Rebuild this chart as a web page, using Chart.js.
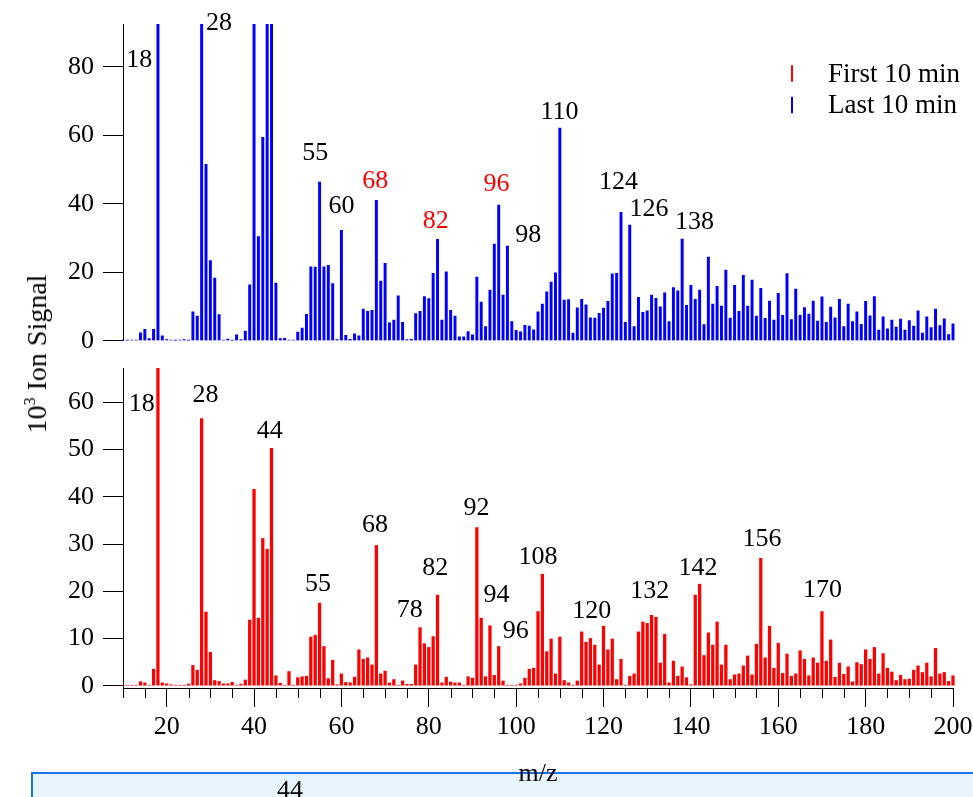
<!DOCTYPE html>
<html>
<head>
<meta charset="utf-8">
<script src="https://cdn.jsdelivr.net/npm/chart.js@4/dist/chart.umd.min.js"></script>
<style>
html,body{margin:0;padding:0;background:#fff;width:973px;height:797px;overflow:hidden;position:relative;font-family:"Liberation Serif","Times New Roman",serif;}
#box{position:absolute;left:31px;top:772px;width:960px;height:60px;background:#e8f4fd;border:2px solid #1a73e8;box-sizing:border-box;}
#c1{position:absolute;left:0;top:-1px;}
#c2{position:absolute;left:0;top:342px;}
#ytitle{position:absolute;left:37px;top:354px;transform:translate(-50%,-50%) rotate(-90deg);white-space:nowrap;font-size:28px;color:#000;}
#ytitle sup{font-size:16px;vertical-align:11px;line-height:0;}
#stray{position:absolute;left:277px;top:777px;font-size:26px;line-height:26px;color:#000;}
</style>
</head>
<body>
<div id="box"></div>
<canvas id="c1" width="973" height="367"></canvas>
<canvas id="c2" width="978" height="455"></canvas>
<div id="ytitle">10<sup>3</sup> Ion Signal</div>
<div id="stray">44</div>
<script>
// m/z categories
const mz = [10,11,12,13,14,15,16,17,18,19,20,21,22,23,24,25,26,27,28,29,30,31,32,33,34,35,36,37,38,39,
40,41,42,43,44,45,46,47,48,49,50,51,52,53,54,55,56,57,58,59,60,61,62,63,64,65,66,67,68,69,
70,71,72,73,74,75,76,77,78,79,80,81,82,83,84,85,86,87,88,89,90,91,92,93,94,95,96,97,98,99,
100,101,102,103,104,105,106,107,108,109,110,111,112,113,114,115,116,117,118,119,120,121,122,123,124,125,126,127,128,129,
130,131,132,133,134,135,136,137,138,139,140,141,142,143,144,145,146,147,148,149,150,151,152,153,154,155,156,157,158,159,
160,161,162,163,164,165,166,167,168,169,170,171,172,173,174,175,176,177,178,179,180,181,182,183,184,185,186,187,188,189,
190,191,192,193,194,195,196,197,198,199,200];

// Last 10 min (10^3 ion signal), m/z 10..200
const lastTen = [0.1,0.1,0.2,0.2,2.3,3.3,0.6,3.3,150,1.4,0.3,0.2,0.1,0.2,0.3,0.1,8.4,7.2,140,51.5,23.4,18.3,7.6,0.2,0.5,0.1,1.7,0.3,2.8,16.3,
110,30.4,59.4,105,160,16.8,0.6,0.7,0.2,0.2,2.5,3.7,7.7,21.6,21.5,46.3,21.6,22.0,16.7,0.3,32.2,1.6,0.4,2.0,1.4,9.2,8.6,8.9,41.0,17.4,
22.6,5.2,6.0,13.1,5.4,0.3,0.4,7.9,8.6,12.9,12.3,19.7,29.6,6.0,20.1,8.9,7.2,1.1,1.1,2.7,1.7,18.6,11.3,4.1,14.8,28.2,39.6,13.3,27.6,5.6,
3.0,2.6,4.5,4.3,3.2,8.4,10.7,14.3,17.1,19.8,62.1,11.9,12.0,2.2,9.6,12.1,10.5,6.7,6.6,8.0,9.5,11.5,19.5,19.7,37.5,5.4,33.8,4.1,12.7,8.3,
8.7,13.3,12.4,9.9,14.0,5.6,15.5,14.6,29.7,10.3,16.2,12.1,14.8,4.7,24.4,10.7,15.9,10.1,20.6,6.6,16.2,8.6,19.1,10.1,17.7,7.2,15.3,6.5,11.6,6.0,
13.8,7.4,19.6,6.2,15.1,7.4,9.7,7.8,11.6,5.7,12.8,5.4,9.8,6.7,12.1,4.1,10.7,5.6,8.4,4.8,11.5,7.3,12.9,3.1,7.0,3.5,6.0,4.0,6.3,3.1,
5.9,4.3,8.7,2.2,7.0,3.8,9.2,4.4,6.4,1.8,4.9];

// First 10 min (10^3 ion signal), m/z 10..200
const firstTen = [0.1,0.1,0.1,0.1,0.85,0.6,0.1,3.5,120,0.6,0.4,0.2,0.1,0.1,0.1,0.35,4.3,3.3,56.6,15.6,7.1,1.1,0.9,0.4,0.4,0.7,0.1,0.35,1.2,13.9,
41.6,14.3,31.2,28.9,50.3,2.1,0.5,0.1,3.0,0.1,1.7,1.9,2.0,10.3,10.7,17.5,8.3,1.5,5.4,0.2,2.5,0.7,0.6,1.8,7.6,5.6,5.9,4.4,29.7,2.5,
3.1,0.6,1.3,0.1,1.0,0.3,0.3,4.4,12.3,8.9,8.1,10.4,19.2,0.6,1.8,0.8,0.6,0.6,0.1,1.9,1.6,33.5,14.3,1.9,12.7,2.2,8.3,1.0,0.1,0.1,
0.1,0.4,1.6,3.5,3.7,15.7,23.6,7.2,9.9,2.5,10.3,1.1,0.6,0.1,1.0,11.4,9.2,10.0,8.6,4.4,12.6,7.6,9.9,1.3,5.6,0.1,2.0,2.5,11.4,13.5,
13.2,14.9,14.5,4.8,10.9,0.6,5.2,2.0,4.0,1.7,0.2,19.2,21.5,6.4,11.2,8.6,13.5,4.4,8.6,1.3,2.3,2.5,4.2,6.3,2.3,8.8,27.0,5.9,12.6,3.7,
9.0,2.6,6.7,2.0,2.5,7.4,5.6,2.1,5.9,4.8,15.7,5.2,9.7,1.8,4.8,2.4,4.0,0.8,4.9,4.5,7.6,5.6,8.1,2.5,6.8,3.7,2.9,1.1,2.2,1.3,
1.4,3.3,4.2,2.8,4.8,1.9,7.9,2.5,2.8,0.9,2.1];

// axis tick values
const xTickLabels = [20,40,60,80,100,120,140,160,180,200];
const topYTicks = [0,20,40,60,80];
const bottomYTicks = [0,10,20,30,40,50,60];

// peak annotations: text, anchor m/z, anchor signal
const topPeakText = ['18','28','55','60','68','82','96','98','110','124','126','138'];
const topPeakMz   = [13.7,32.0,54.0,60.0,67.75,81.6,95.5,102.75,109.9,123.4,130.4,140.8];
const topPeakVal  = [80.0,90.7,52.8,37.2,44.5,32.8,43.7,28.7,64.7,44.3,36.5,32.6];
const topPeakRed  = ['68','82','96'];

const botPeakText = ['18','28','44','55','68','78','82','92','94','96','108','120','132','142','156','170'];
const botPeakMz   = [14.3,28.9,43.6,54.65,67.7,75.65,81.5,90.9,95.5,99.9,105.0,117.3,130.6,141.6,156.3,170.1];
const botPeakVal  = [58.2,60.1,52.5,20.1,32.6,14.6,23.4,36.1,17.7,10.0,25.7,14.3,18.5,23.4,29.6,18.7];

const FONT = "'Liberation Serif','Times New Roman',serif";
Chart.defaults.font.family = FONT;
Chart.defaults.color = '#000';

function peakLabels(id, texts, xs, ys, redSet){
  return {
    id: id,
    afterDatasetsDraw(chart){
      const ctx = chart.ctx, sx = chart.scales.x, sy = chart.scales.y;
      ctx.save();
      ctx.font = "26px " + FONT;
      ctx.textAlign = 'center';
      ctx.textBaseline = 'alphabetic';
      texts.forEach((t,i)=>{
        ctx.fillStyle = redSet.includes(t) ? '#ff0000' : '#000000';
        ctx.fillText(t, sx.getPixelForValue(xs[i]), sy.getPixelForValue(ys[i]));
      });
      ctx.restore();
    }
  };
}

const legendPlugin = {
  id: 'legendPlugin',
  afterDraw(chart){
    const ctx = chart.ctx;
    ctx.save();
    const items = [['First 10 min','#ff0000',82.7],['Last 10 min','#0000ff',114.3]];
    items.forEach(([t,c,base])=>{
      ctx.strokeStyle = c; ctx.lineWidth = 2;
      ctx.beginPath(); ctx.moveTo(792, base-16.5); ctx.lineTo(792, base); ctx.stroke();
      ctx.fillStyle = '#000'; ctx.font = "27px " + FONT;
      ctx.textAlign = 'left'; ctx.textBaseline = 'alphabetic';
      ctx.fillText(t, 828, base);
    });
    ctx.restore();
  }
};

const minorTicks = {
  id: 'minorTicks',
  afterDraw(chart){
    const xs = chart.scales.x, ctx = chart.ctx;
    ctx.save(); ctx.strokeStyle = '#000'; ctx.lineWidth = 1;
    for (let v = 10; v <= 200; v += 5){
      if (v % 20 === 0) continue;
      const px = Math.round(xs.getPixelForValue(v)) + 0.5;
      ctx.beginPath(); ctx.moveTo(px, xs.top); ctx.lineTo(px, xs.top + 10); ctx.stroke();
    }
    ctx.restore();
  }
};

function yAxis(min, max, step, tickVals){
  return {
    min: min, max: max,
    afterBuildTicks: s => { s.ticks = tickVals.map(v => ({value: v})); },
    afterFit: s => { s.width = 123; },
    ticks: {stepSize: step, font: {size: 26}, color: '#000', padding: 9},
    grid: {drawOnChartArea: false, tickLength: 20, color: '#000', tickColor: '#000'},
    border: {color: '#000', width: 1}
  };
}

new Chart(document.getElementById('c1'), {
  type: 'bar',
  data: {datasets: [{
    label: 'Last 10 min',
    data: mz.map((m,i)=>({x: m, y: lastTen[i]})),
    backgroundColor: '#0000ff',
    barThickness: 2.3,
    clip: {left: 3, top: 0, right: 3, bottom: 0}
  }]},
  options: {
    responsive: false, animation: false,
    layout: {padding: {top: 25, right: 20, bottom: 25.3, left: 0}},
    plugins: {legend: {display: false}, tooltip: {enabled: false}},
    scales: {
      x: {type: 'linear', min: 10, max: 200, offset: false, grid: {offset: false}, display: false},
      y: yAxis(0, 92.5, 20, topYTicks)
    }
  },
  plugins: [peakLabels('topPeaks', topPeakText, topPeakMz, topPeakVal, topPeakRed), legendPlugin]
});

new Chart(document.getElementById('c2'), {
  type: 'bar',
  data: {datasets: [{
    label: 'First 10 min',
    data: mz.map((m,i)=>({x: m, y: firstTen[i]})),
    backgroundColor: '#ff0000',
    barThickness: 2.6,
    clip: {left: 3, top: 0, right: 3, bottom: 0}
  }]},
  options: {
    responsive: false, animation: false,
    layout: {padding: {top: 26, right: 25, bottom: 0, left: 0}},
    plugins: {legend: {display: false}, tooltip: {enabled: false}},
    scales: {
      x: {
        type: 'linear', min: 10, max: 200, offset: false,
        afterBuildTicks: s => { s.ticks = xTickLabels.map(v => ({value: v})); },
        afterFit: s => { s.height = 109; },
        ticks: {font: {size: 26}, color: '#000', padding: 5, maxRotation: 0, autoSkip: false},
        grid: {offset: false, drawOnChartArea: false, tickLength: 19, color: '#000', tickColor: '#000'},
        border: {color: '#000', width: 1},
        title: {display: true, text: 'm/z', font: {size: 26}, color: '#000', padding: {top: 0, bottom: 7}}
      },
      y: yAxis(-0.49, 67.3, 10, bottomYTicks)
    }
  },
  plugins: [peakLabels('botPeaks', botPeakText, botPeakMz, botPeakVal, []), minorTicks]
});
</script>
</body>
</html>
